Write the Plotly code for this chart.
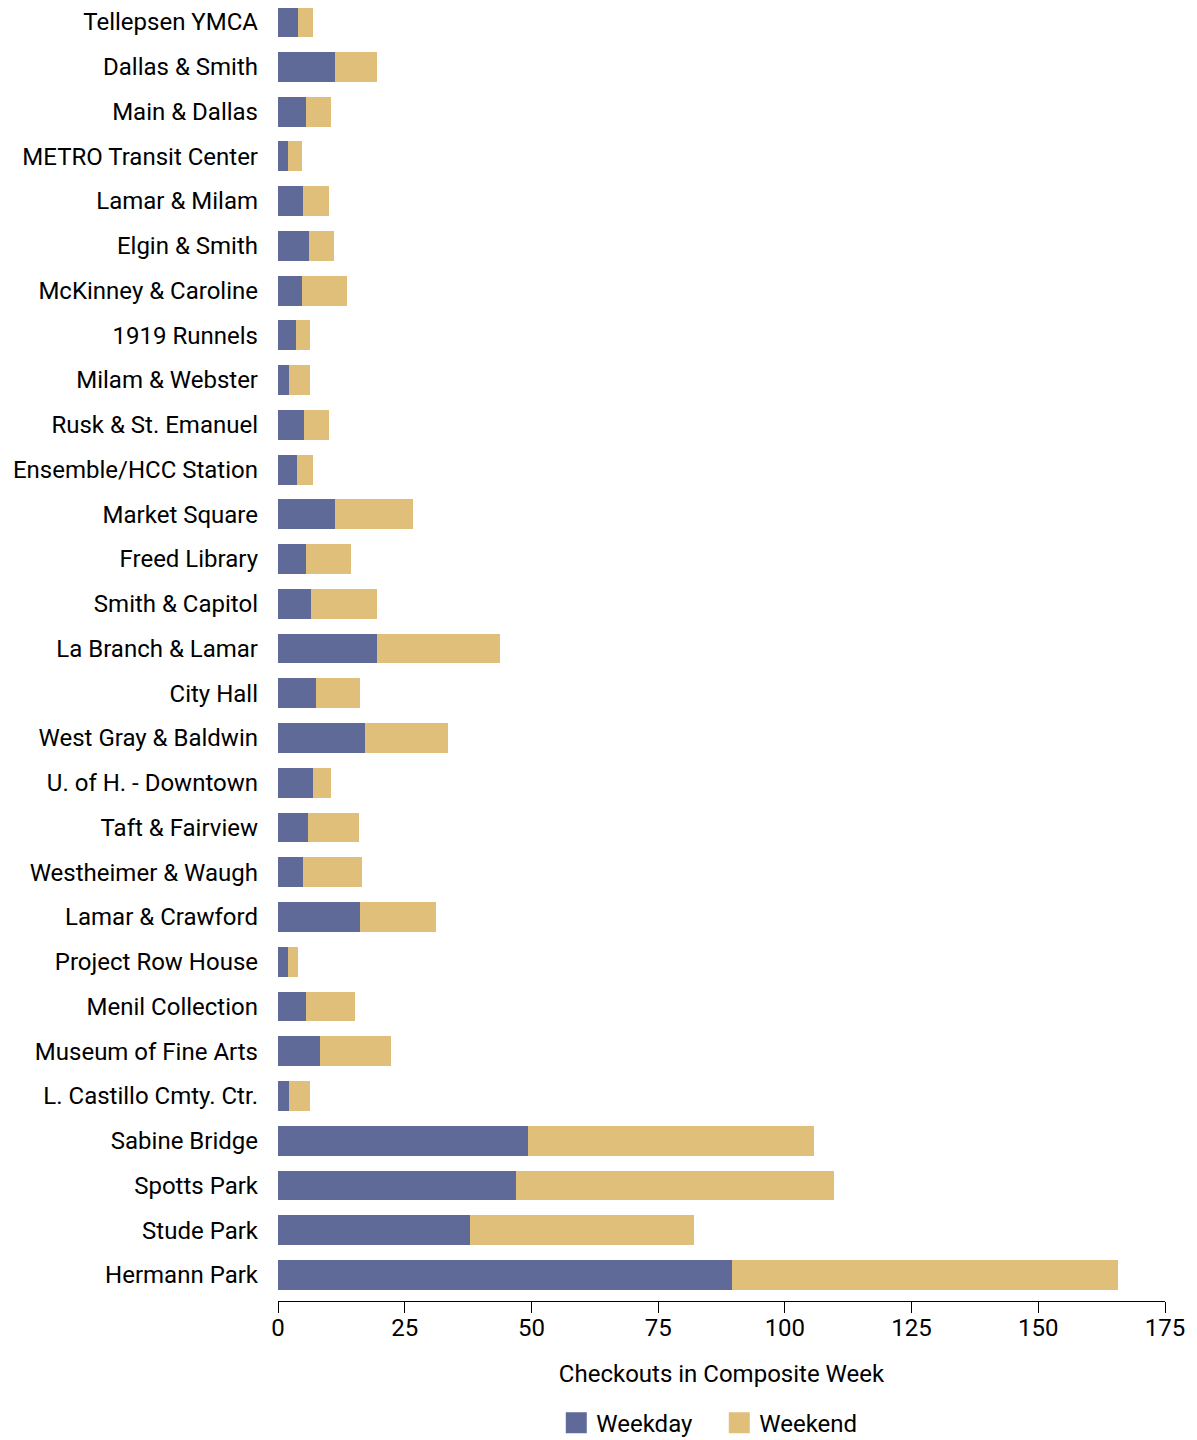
import plotly.graph_objects as go

stations = [
    "Tellepsen YMCA", "Dallas & Smith", "Main & Dallas", "METRO Transit Center",
    "Lamar & Milam", "Elgin & Smith", "McKinney & Caroline", "1919 Runnels",
    "Milam & Webster", "Rusk & St. Emanuel", "Ensemble/HCC Station", "Market Square",
    "Freed Library", "Smith & Capitol", "La Branch & Lamar", "City Hall",
    "West Gray & Baldwin", "U. of H. - Downtown", "Taft & Fairview", "Westheimer & Waugh",
    "Lamar & Crawford", "Project Row House", "Menil Collection", "Museum of Fine Arts",
    "L. Castillo Cmty. Ctr.", "Sabine Bridge", "Spotts Park", "Stude Park", "Hermann Park",
]
weekday = [4.0, 11.2, 5.5, 2.0, 5.0, 6.1, 4.7, 3.5, 2.2, 5.1, 3.75, 11.2, 5.5, 6.5, 19.5,
           7.5, 17.2, 6.9, 5.9, 4.9, 16.2, 2.0, 5.5, 8.3, 2.2, 49.4, 47.0, 37.8, 89.5]
weekend = [3.0, 8.3, 5.0, 2.7, 5.1, 4.9, 8.9, 2.8, 4.1, 5.0, 3.15, 15.4, 8.9, 13.0, 24.3,
           8.7, 16.3, 3.6, 10.1, 11.7, 15.0, 1.9, 9.7, 14.0, 4.1, 56.3, 62.6, 44.3, 76.2]
x_ticks = [0, 25, 50, 75, 100, 125, 150, 175]
series_names = ["Weekday", "Weekend"]
series_colors = ["#5F6A99", "#E0BF7B"]

fig = go.Figure()
for name, vals, col in zip(series_names, [weekday, weekend], series_colors):
    fig.add_trace(go.Bar(y=stations, x=vals, orientation="h", name=name,
                         marker=dict(color=col, line=dict(width=0)), showlegend=False))
# legend entries with larger square swatches
for name, col in zip(series_names, series_colors):
    fig.add_trace(go.Scatter(x=[None], y=[None], mode="markers", name=name,
                             marker=dict(symbol="square", size=16, color=col,
                                         line=dict(color=col, width=8)),
                             showlegend=True))

fig.update_layout(
    barmode="stack",
    bargap=0.33,
    width=1189, height=1432,
    margin=dict(l=270, r=32, t=0, b=139, autoexpand=False),
    paper_bgcolor="white", plot_bgcolor="white",
    font=dict(family="Roboto", size=24, color="black"),
    legend=dict(orientation="h", x=0.4975, xanchor="center", y=-0.0944, yanchor="middle",
                font=dict(size=24), itemsizing="trace", traceorder="normal",
                itemwidth=30, entrywidth=118, entrywidthmode="pixels"),
    showlegend=True,
)
fig.update_xaxes(range=[0, 175], tickvals=x_ticks, showgrid=False, zeroline=False,
                 showline=True, linecolor="black", linewidth=1,
                 ticks="outside", ticklen=11, tickcolor="black",
                 ticklabelstandoff=-6, automargin=False,
                 title=dict(text="Checkouts in Composite Week", standoff=24,
                            font=dict(size=24, family="Roboto")),
                 tickfont=dict(size=24))
fig.update_yaxes(range=[28.581, -0.313], showgrid=False, zeroline=False, showline=False,
                 ticks="", ticklabelstandoff=19, tickfont=dict(size=24), automargin=False)

fig.write_html("out.html")
